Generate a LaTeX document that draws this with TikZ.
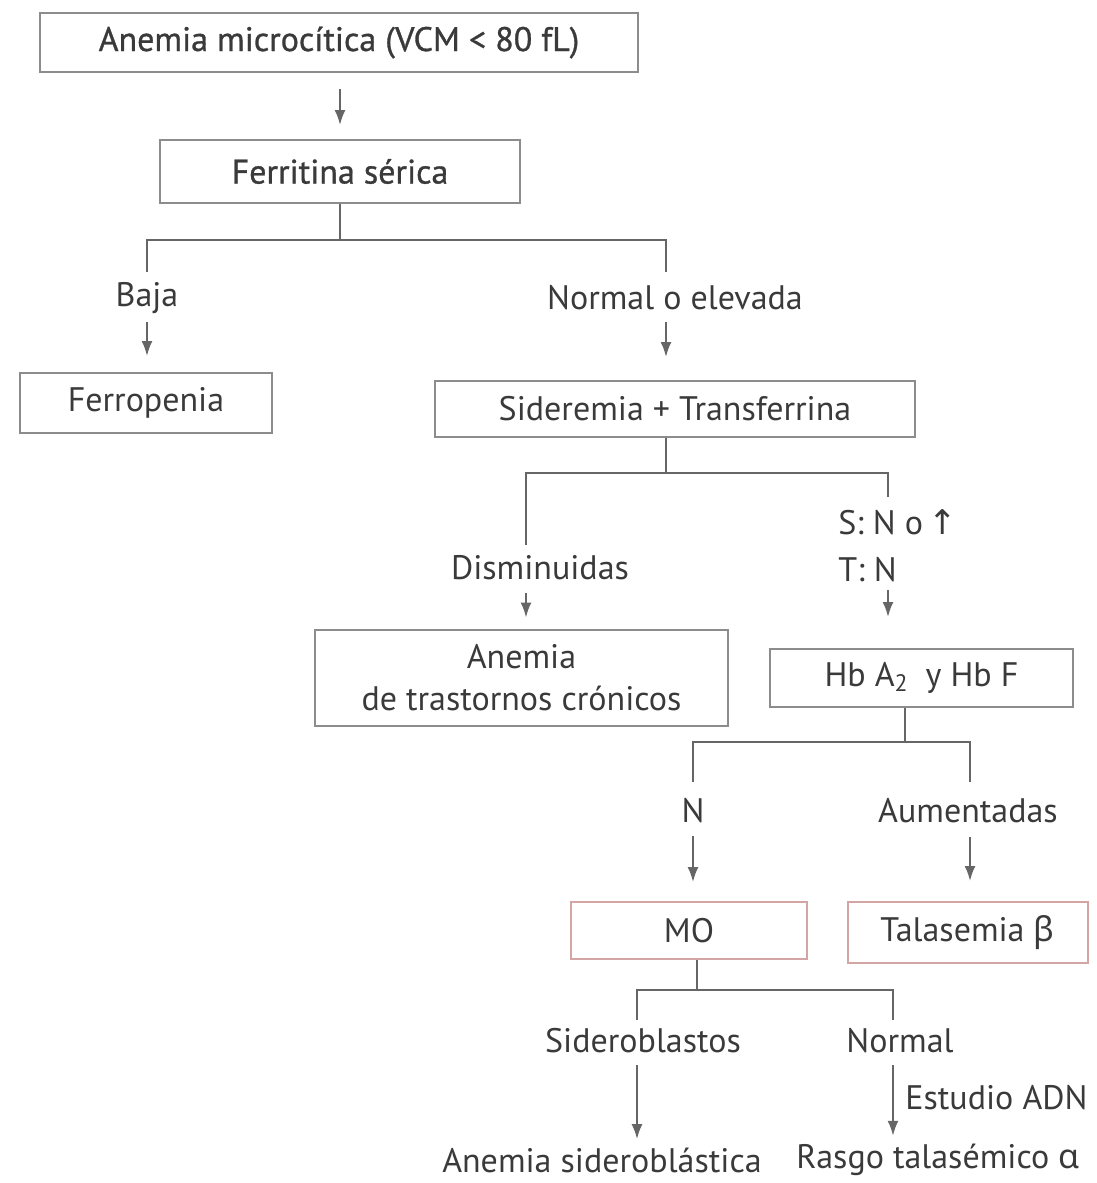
\documentclass[tikz,border=0pt]{standalone}
\usepackage{fontspec}
\setmainfont{PT Sans}
\newfontfamily\semib[FakeBold=0.9]{PT Sans}
\newfontfamily\grk{Noto Sans}
\newfontfamily\symf{DejaVu Sans}
\usetikzlibrary{arrows.meta,calc}
\definecolor{ink}{HTML}{3A3A3A}
\definecolor{wire}{HTML}{666666}
\definecolor{frame}{HTML}{8C8C8C}
\definecolor{rframe}{HTML}{D4A5A5}
\begin{document}
\begin{tikzpicture}[x=0.5pt,y=-0.5pt,
  txt/.style={text=ink,font=\fontsize{17}{21}\selectfont},
  box/.style={txt,draw=frame,line width=1pt,inner sep=0pt,align=center},
  headbox/.style={box,font=\fontsize{17}{21}\semib},
  redbox/.style={box,draw=rframe},
  lbl/.style={txt,inner sep=0pt},
  ln/.style={draw=wire,line width=1pt},
  arr/.style={ln,-{Latex[length=7.5pt,width=5.5pt]}}]
\useasboundingbox (0,0) rectangle (1097,1183);

% boxes
\node[headbox,minimum width=299pt,minimum height=29.5pt] (micro) at (339,42.5) {Anemia microcítica (VCM < 80 fL)};
\node[headbox,minimum width=180pt,minimum height=31.5pt] (ferri) at (340,171.5) {Ferritina sérica};
\node[box,minimum width=126pt,minimum height=30pt] (ferro) at (146,403) {Ferropenia};
\node[box,minimum width=240pt,minimum height=28pt] (sidtr) at (675,409) {Sideremia + Transferrina};
\node[box,minimum width=206.5pt,minimum height=48pt] (atc) at (521.5,677.5) {Anemia\\de trastornos crónicos};
\node[box,minimum width=151.5pt,minimum height=29pt] (hb) at (921.5,678) {Hb A\textsubscript{2}\enspace y Hb F};
\node[redbox,minimum width=118pt,minimum height=28.5pt] (mo) at (689,930.5) {MO};
\node[redbox,minimum width=120pt,minimum height=30.5pt] (tal) at (967.5,932.5) {Talasemia {\grk β}};

% branch labels
\node[lbl] (baja) at (147,298) {Baja};
\node[lbl] (normelev) at (675,298) {Normal o elevada};
\node[lbl] (dism) at (540,568) {Disminuidas};
\node[lbl,anchor=west] (snt) at (838,522) {S: N o\,{\symf ↑}};
\node[lbl,anchor=west] (tn) at (838,570) {T: N};
\node[lbl] (nn) at (693,811) {N};
\node[lbl] (aum) at (968,811) {Aumentadas};
\node[lbl] (sidb) at (643,1041) {Sideroblastos};
\node[lbl] (norm) at (900,1041) {Normal};
\node[lbl,anchor=west] (adn) at (905,1098) {Estudio ADN};
\node[lbl] (asid) at (602,1160) {Anemia sideroblástica};
\node[lbl] (rasgo) at (938,1160) {Rasgo talasémico {\grk α}};

% first step
\draw[arr] ($(micro.south)+(1,16)$) -- ($(ferri.north)+(0,-14)$);

% ferritina branches
\coordinate (j1) at (340,240);
\coordinate (d1l) at (147,272);
\coordinate (d1r) at (666,272);
\coordinate (a1l) at (147,322);
\coordinate (a1r) at (666,322);
\draw[ln] (ferri.south) -- (j1);
\draw[ln] (d1l) |- (j1) -| (d1r);
\draw[arr,shorten >=8pt] (a1l) -- (a1l |- ferro.north);
\draw[arr,shorten >=11.5pt] (a1r) -- (a1r |- sidtr.north);

% sideremia branches
\coordinate (j2) at (666,473);
\coordinate (d2l) at (526,545);
\coordinate (d2r) at (888,497);
\coordinate (a2l) at (526,593);
\coordinate (a2r) at (888,590);
\draw[ln] (sidtr.south -| j2) -- (j2);
\draw[ln] (d2l) |- (j2) -| (d2r);
\draw[arr,shorten >=5.5pt] (a2l) -- (a2l |- atc.north);
\draw[arr,shorten >=15.5pt] (a2r) -- (a2r |- hb.north);

% hemoglobin branches
\coordinate (j3) at (905,742);
\coordinate (d3l) at (693,782);
\coordinate (d3r) at (970,782);
\coordinate (a3l) at (693,836);
\coordinate (a3r) at (970,837);
\draw[ln] (hb.south -| j3) -- (j3);
\draw[ln] (d3l) |- (j3) -| (d3r);
\draw[arr,shorten >=9.5pt] (a3l) -- (a3l |- mo.north);
\draw[arr,shorten >=10pt] (a3r) -- (a3r |- tal.north);

% bone marrow branches
\coordinate (j4) at (697,990);
\coordinate (d4l) at (637,1020);
\coordinate (d4r) at (893,1020);
\coordinate (a4l) at (637,1065);
\coordinate (a4r) at (893,1065);
\draw[ln] (mo.south -| j4) -- (j4);
\draw[ln] (d4l) |- (j4) -| (d4r);
\draw[arr,shorten >=4pt] (a4l) -- (a4l |- asid.north);
\draw[arr,shorten >=4pt] (a4r) -- (a4r |- rasgo.north);
\end{tikzpicture}
\end{document}
